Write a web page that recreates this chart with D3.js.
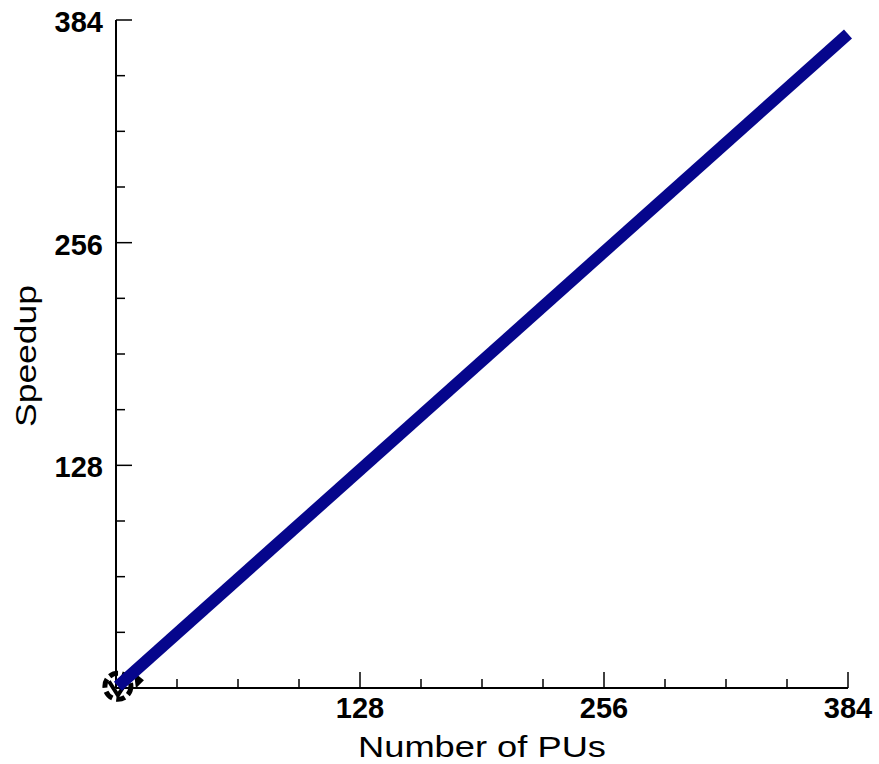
<!DOCTYPE html>
<html>
<head>
<meta charset="utf-8">
<script src="https://cdn.jsdelivr.net/npm/d3@7"></script>
<style>
  body { margin: 0; background: #fff; }
  text { font-family: "Liberation Sans", Arial, sans-serif; fill: #000; }
</style>
</head>
<body>
<svg id="graph" width="879" height="764"></svg>
<script>
// data
var pus     = [1, 384];
var speedup = [1, 376];
var majorTicks = [0, 128, 256, 384];
var tickLabels = ["", "128", "256", "384"];
var minorTicks = d3.range(0, 385, 32);

var svg = d3.select("svg"),
    mLeft = 116, mRight = 848, mTop = 20, mBottom = 688;

var x = d3.scaleLinear().domain([0, 384]).range([mLeft, mRight]);
var y = d3.scaleLinear().domain([0, 384]).range([mBottom, mTop]);

var pts = pus.map(function(d, i) { return [d, speedup[i]]; });

// axes lines
svg.append("line")
  .attr("x1", mLeft).attr("x2", mRight).attr("y1", mBottom).attr("y2", mBottom)
  .attr("stroke", "#000").attr("stroke-width", 2);
svg.append("line")
  .attr("x1", mLeft).attr("x2", mLeft).attr("y1", mTop).attr("y2", mBottom)
  .attr("stroke", "#000").attr("stroke-width", 2);

// ticks, drawn inward
var xt = svg.append("g");
xt.selectAll("line").data(minorTicks).enter().append("line")
  .attr("x1", function(d) { return x(d); }).attr("x2", function(d) { return x(d); })
  .attr("y1", mBottom).attr("y2", function(d) { return d % 128 == 0 ? mBottom - 16 : mBottom - 9; })
  .attr("stroke", "#000").attr("stroke-width", 1.5);
xt.selectAll("text").data(majorTicks).enter().append("text")
  .attr("x", function(d) { return x(d); })
  .attr("y", 718)
  .attr("text-anchor", "middle")
  .style("font-size", "29px")
  .style("font-weight", "bold")
  .text(function(d, i) { return tickLabels[i]; });

var yt = svg.append("g");
yt.selectAll("line").data(minorTicks).enter().append("line")
  .attr("y1", function(d) { return y(d); }).attr("y2", function(d) { return y(d); })
  .attr("x1", mLeft).attr("x2", function(d) { return d % 128 == 0 ? mLeft + 16 : mLeft + 9; })
  .attr("stroke", "#000").attr("stroke-width", 1.5);
yt.selectAll("text").data(majorTicks).enter().append("text")
  .attr("x", 103)
  .attr("y", function(d) { return y(d) + 12; })
  .attr("text-anchor", "end")
  .style("font-size", "29px")
  .style("font-weight", "bold")
  .text(function(d, i) { return tickLabels[i]; });

// axis titles
svg.append("text")
  .attr("x", 482).attr("y", 757)
  .attr("text-anchor", "middle")
  .attr("textLength", 248)
  .attr("lengthAdjust", "spacingAndGlyphs")
  .style("font-size", "30px")
  .text("Number of PUs");
svg.append("text")
  .attr("transform", "translate(36,356) rotate(-90)")
  .attr("text-anchor", "middle")
  .attr("textLength", 142)
  .attr("lengthAdjust", "spacingAndGlyphs")
  .style("font-size", "30px")
  .text("Speedup");

// marker at first point (smudged circle symbol)
var p0 = pts[0];
var cx0 = x(p0[0]), cy0 = y(p0[1]);
svg.append("circle")
  .attr("cx", cx0).attr("cy", cy0)
  .attr("r", 13)
  .attr("fill", "none").attr("stroke", "#000").attr("stroke-width", 5)
  .attr("stroke-dasharray", "9,4");
svg.append("path")
  .attr("d", "M" + (cx0 - 9) + "," + (cy0 - 5) + "L" + cx0 + "," + (cy0 + 9) + "L" + (cx0 + 9) + "," + (cy0 - 5))
  .attr("fill", "none").attr("stroke", "#000").attr("stroke-width", 4);
svg.append("path")
  .attr("d", "M" + (cx0 + 16) + "," + (cy0 - 14) + "L" + (cx0 + 26) + "," + (cy0 - 6) + "L" + (cx0 + 18) + "," + (cy0 + 2) + "Z")
  .attr("fill", "#000");

// speedup line
var line = d3.line()
  .x(function(d) { return x(d[0]); })
  .y(function(d) { return y(d[1]); });
svg.append("path")
  .datum(pts)
  .attr("d", line)
  .attr("fill", "none")
  .attr("stroke", "#06068c")
  .attr("stroke-width", 12);
</script>
</body>
</html>
